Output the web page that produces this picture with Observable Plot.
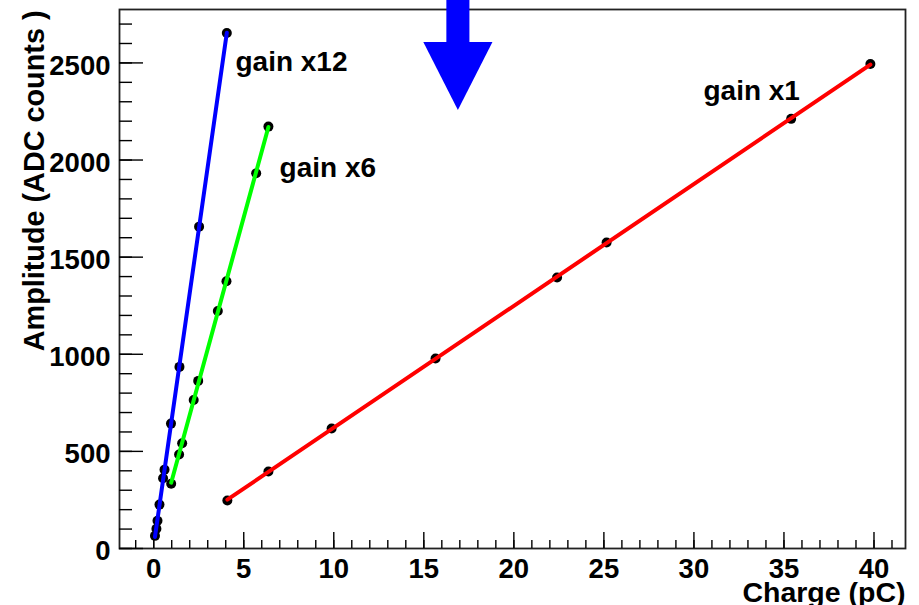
<!DOCTYPE html>
<html>
<head>
<meta charset="utf-8">
<script src="https://cdn.jsdelivr.net/npm/d3@7"></script>
<script src="https://cdn.jsdelivr.net/npm/@observablehq/plot@0.6"></script>
<style>
  html, body { margin: 0; padding: 0; background: #fff; }
  #chart { width: 919px; height: 605px; overflow: hidden; }
</style>
</head>
<body>
<div id="chart"></div>
<script>
// ---- data ----
const charge12 = [0.07, 0.15, 0.21, 0.32, 0.52, 0.60, 0.96, 1.43, 2.52, 4.06];
const amp12    = [65, 102, 143, 226, 362, 406, 643, 935, 1657, 2654];
const charge6  = [0.97, 1.41, 1.58, 2.22, 2.47, 3.56, 4.04, 5.69, 6.37];
const amp6     = [333, 484, 542, 765, 863, 1223, 1376, 1932, 2172];
const charge1  = [4.09, 6.37, 9.88, 15.65, 22.40, 25.15, 35.40, 39.80];
const amp1     = [247, 396, 618, 978, 1395, 1575, 2212, 2494];

const seriesNames  = ["gain x12", "gain x6", "gain x1"];
const seriesColors = ["#0000ff", "#00ff00", "#ff0000"];
const labelX = [4.54, 6.99, 30.53];
const labelY = [2502, 1958, 2353];

const xMajorTicks = [0, 5, 10, 15, 20, 25, 30, 35, 40];
const xMinorTicks = d3.range(-1, 42, 1);
const yMajorTicks = [0, 500, 1000, 1500, 2000, 2500];
const yMinorTicks = d3.range(0, 2701, 100);

// arrow annotation (data units)
const arrowCenter = 16.92, arrowHeadHalf = 1.92, arrowShaftHalf = 0.64;
const arrowTip = 2255, arrowHeadBase = 2605, arrowTop = 2830;

// ---- tables ----
const rows = (xs, ys, s) => xs.map((x, i) => ({x, y: ys[i], s}));
const d12 = rows(charge12, amp12, seriesNames[0]);
const d6  = rows(charge6, amp6, seriesNames[1]);
const d1  = rows(charge1, amp1, seriesNames[2]);
const all = [...d12, ...d6, ...d1];
const labels = seriesNames.map((t, i) => ({t, x: labelX[i], y: labelY[i]}));
const head = [
  {x: arrowCenter - arrowHeadHalf, y1: arrowHeadBase, y2: arrowHeadBase},
  {x: arrowCenter, y1: arrowTip, y2: arrowHeadBase},
  {x: arrowCenter + arrowHeadHalf, y1: arrowHeadBase, y2: arrowHeadBase}
];
const shaft = [{x1: arrowCenter - arrowShaftHalf, x2: arrowCenter + arrowShaftHalf, y1: arrowHeadBase - 5, y2: arrowTop}];

const FS = 27.5;
const fmt = d => String(d);
const chart = Plot.plot({
  width: 919,
  height: 605,
  marginLeft: 119,
  marginRight: 14,
  marginTop: 9,
  marginBottom: 57,
  style: {fontFamily: "'Liberation Sans', Arial, Helvetica, sans-serif", fontWeight: "bold", background: "#fff", color: "#000"},
  x: {domain: [-1.9, 41.75], axis: null},
  y: {domain: [0, 2775], axis: null},
  marks: [
    Plot.frame({stroke: "#222", strokeWidth: 1.8}),
    // minor / major ticks (inward)
    Plot.axisX({ticks: xMinorTicks, tickSize: -8, text: null, label: null, strokeWidth: 1.4, stroke: "#000"}),
    Plot.axisX({ticks: xMajorTicks, tickSize: -16, text: null, label: null, strokeWidth: 1.4, stroke: "#000"}),
    Plot.axisY({ticks: yMinorTicks, tickSize: -13, text: null, label: null, strokeWidth: 1.4, stroke: "#000"}),
    Plot.axisY({ticks: yMajorTicks, tickSize: -24, text: null, label: null, strokeWidth: 1.4, stroke: "#000"}),
    // tick labels
    Plot.axisX({ticks: xMajorTicks, tickSize: 0, tickPadding: 10, tickFormat: fmt, label: null, fontSize: FS, fontWeight: "bold"}),
    Plot.axisY({ticks: yMajorTicks, tickSize: 0, tickPadding: 9, tickFormat: fmt, label: null, fontSize: FS, fontWeight: "bold", dy: 3}),
    // axis titles
    Plot.text(["Amplitude (ADC counts )"], {frameAnchor: "top-left", text: d => d, rotate: -90, textAnchor: "end", lineAnchor: "middle", dx: -85, dy: 1, fontSize: 28.8, fontWeight: "bold"}),
    Plot.text(["Charge (pC)"], {frameAnchor: "bottom-right", text: d => d, textAnchor: "end", lineAnchor: "middle", dy: 44, fontSize: 28.5, fontWeight: "bold"}),
    // points
    Plot.dot(all, {x: "x", y: "y", r: 5, fill: "#000", stroke: "none"}),
    // fit lines
    Plot.linearRegressionY(d12, {x: "x", y: "y", stroke: seriesColors[0], strokeWidth: 4, ci: 0}),
    Plot.linearRegressionY(d6,  {x: "x", y: "y", stroke: seriesColors[1], strokeWidth: 4, ci: 0}),
    Plot.linearRegressionY(d1,  {x: "x", y: "y", stroke: seriesColors[2], strokeWidth: 4, ci: 0}),
    // series labels
    Plot.text(labels, {x: "x", y: "y", text: "t", textAnchor: "start", lineAnchor: "middle", fontSize: 28, fontWeight: "bold", fill: "#000"}),
    // arrow
    Plot.rect(shaft, {x1: "x1", x2: "x2", y1: "y1", y2: "y2", fill: "#0000ff"}),
    Plot.areaY(head, {x: "x", y1: "y1", y2: "y2", fill: "#0000ff", curve: "linear"})
  ]
});
document.getElementById("chart").appendChild(chart);
</script>
</body>
</html>
